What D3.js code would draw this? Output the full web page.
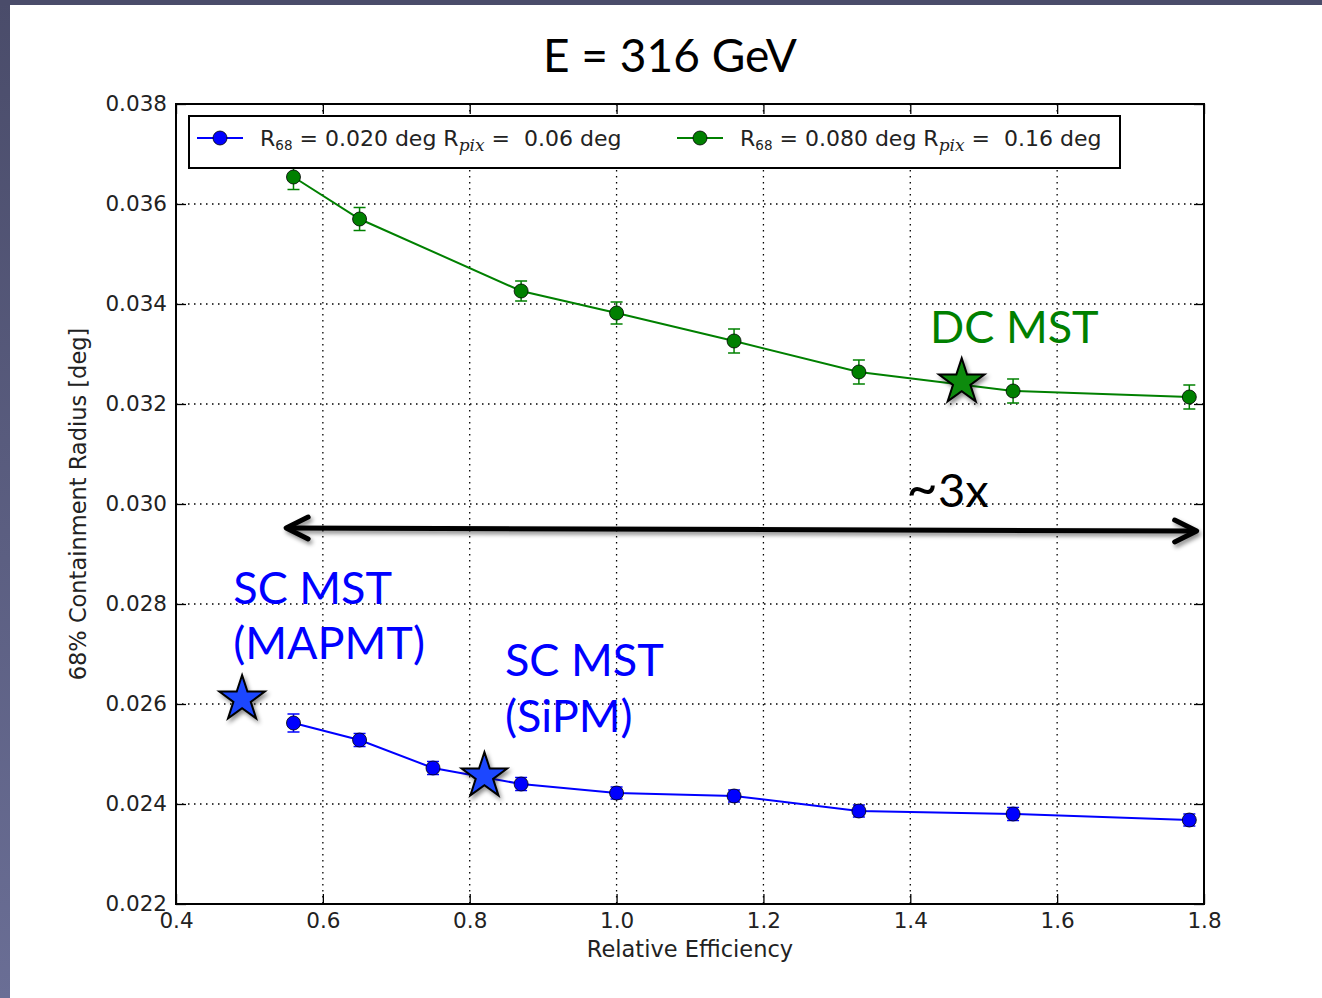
<!DOCTYPE html>
<html>
<head>
<meta charset="utf-8">
<script src="https://cdn.jsdelivr.net/npm/d3@7"></script>
<style>
  html, body { margin: 0; padding: 0; background: #fff; }
  svg { display: block; }
  .tick text { font-family: "DejaVu Sans", sans-serif; font-size: 21.5px; fill: #222; }
</style>
</head>
<body>
<svg id="chart" width="1322" height="998"></svg>
<script>
// Relative efficiency values shared by the simulated configurations
const effBlue  = [0.56, 0.65, 0.75, 0.87, 1.00, 1.16, 1.33, 1.54, 1.78];
const r68Blue  = [0.02562, 0.02528, 0.02472, 0.02440, 0.02422, 0.02416, 0.02386, 0.02380, 0.02368];
const errBlue  = [0.00018, 0.00013, 0.00013, 0.00013, 0.00012, 0.00012, 0.00012, 0.00013, 0.00012];

const effGreen = [0.56, 0.65, 0.87, 1.00, 1.16, 1.33, 1.54, 1.78];
const r68Green = [0.03654, 0.03570, 0.03426, 0.03382, 0.03326, 0.03264, 0.03226, 0.03214];
const errGreen = [0.00025, 0.00023, 0.00020, 0.00022, 0.00024, 0.00024, 0.00024, 0.00024];

// Telescope design points (stars)
const starNames = ["SC MST (MAPMT)", "SC MST (SiPM)", "DC MST"];
const starEff   = [0.49, 0.82, 1.47];
const starR68   = [0.02610, 0.02456, 0.03244];

const xTicks = [0.4, 0.6, 0.8, 1.0, 1.2, 1.4, 1.6, 1.8];
const yTicks = [0.022, 0.024, 0.026, 0.028, 0.030, 0.032, 0.034, 0.036, 0.038];

// ~3x span arrow endpoints (efficiency, radius)
const arrowFrom = [0.55, 0.02952];
const arrowTo   = [1.79, 0.02946];

const svg = d3.select("#chart");
const W = 1322, H = 998;

// slide frame
const defs = svg.append("defs");
const grad = defs.append("linearGradient").attr("id", "frameGrad")
  .attr("x1", 0).attr("y1", 0).attr("x2", 0).attr("y2", 1);
grad.append("stop").attr("offset", "0%").attr("stop-color", "#4a4c6a");
grad.append("stop").attr("offset", "100%").attr("stop-color", "#6a6e95");
const shadow = defs.append("filter").attr("id", "shadow")
  .attr("x", "-50%").attr("y", "-50%").attr("width", "200%").attr("height", "200%");
shadow.append("feDropShadow").attr("dx", 2).attr("dy", 3).attr("stdDeviation", 2)
  .attr("flood-color", "#000").attr("flood-opacity", 0.45);

svg.append("rect").attr("width", W).attr("height", H).attr("fill", "#fff");
svg.append("rect").attr("x", 0).attr("y", 0).attr("width", 10).attr("height", H).attr("fill", "url(#frameGrad)");
svg.append("rect").attr("x", 0).attr("y", 0).attr("width", W).attr("height", 5).attr("fill", "#4a4c6a");

const x = d3.scaleLinear().domain([0.4, 1.8]).range([176, 1204]);
const y = d3.scaleLinear().domain([0.022, 0.038]).range([904, 104]);

// grid
const grid = svg.append("g").attr("stroke", "#000").attr("stroke-width", 1.3)
  .attr("stroke-dasharray", "1.5,4.5");
grid.selectAll("line.gx").data(xTicks.slice(1, -1)).join("line")
  .attr("x1", d => x(d)).attr("x2", d => x(d)).attr("y1", y(0.038)).attr("y2", y(0.022));
grid.selectAll("line.gy").data(yTicks.slice(1, -1)).join("line")
  .attr("y1", d => y(d)).attr("y2", d => y(d)).attr("x1", x(0.4)).attr("x2", x(1.8));

// axes with inward ticks on all four sides
const fmtY = d3.format(".3f");
const fmtX = d3.format(".1f");
function styleAxis(g) {
  g.select(".domain").remove();
  g.selectAll(".tick line").attr("stroke", "#000").attr("stroke-width", 1.3);
}
svg.append("g").attr("transform", `translate(0,${y(0.022)})`)
  .call(d3.axisBottom(x).tickValues(xTicks).tickFormat(fmtX).tickSize(-10).tickPadding(9)).call(styleAxis);
svg.append("g").attr("transform", `translate(0,${y(0.038)})`)
  .call(d3.axisTop(x).tickValues(xTicks).tickFormat("").tickSize(-10)).call(styleAxis);
svg.append("g").attr("transform", `translate(${x(0.4)},0)`)
  .call(d3.axisLeft(y).tickValues(yTicks).tickFormat(fmtY).tickSize(-10).tickPadding(9)).call(styleAxis);
svg.append("g").attr("transform", `translate(${x(1.8)},0)`)
  .call(d3.axisRight(y).tickValues(yTicks).tickFormat("").tickSize(-10)).call(styleAxis);

svg.append("rect").attr("x", x(0.4)).attr("y", y(0.038))
  .attr("width", x(1.8) - x(0.4)).attr("height", y(0.022) - y(0.038))
  .attr("fill", "none").attr("stroke", "#000").attr("stroke-width", 2);

// series
function drawSeries(xs, ys, es, color) {
  const g = svg.append("g");
  const line = d3.line().x((d, i) => x(xs[i])).y(d => y(d));
  g.append("path").datum(ys).attr("d", line).attr("fill", "none")
    .attr("stroke", color).attr("stroke-width", 2);
  const eb = g.append("g").attr("stroke", color).attr("stroke-width", 1.5);
  ys.forEach((v, i) => {
    const cx = x(xs[i]);
    eb.append("line").attr("x1", cx).attr("x2", cx).attr("y1", y(v - es[i])).attr("y2", y(v + es[i]));
    eb.append("line").attr("x1", cx - 6).attr("x2", cx + 6).attr("y1", y(v - es[i])).attr("y2", y(v - es[i]));
    eb.append("line").attr("x1", cx - 6).attr("x2", cx + 6).attr("y1", y(v + es[i])).attr("y2", y(v + es[i]));
  });
  g.selectAll("circle").data(ys).join("circle")
    .attr("cx", (d, i) => x(xs[i])).attr("cy", d => y(d)).attr("r", 7)
    .attr("fill", color).attr("stroke", "#000").attr("stroke-width", 0.8);
}
drawSeries(effGreen, r68Green, errGreen, "#008000");
drawSeries(effBlue, r68Blue, errBlue, "#0000ff");

// legend
const leg = svg.append("g");
leg.append("rect").attr("x", 189).attr("y", 116).attr("width", 931).attr("height", 52)
  .attr("fill", "#fff").attr("stroke", "#000").attr("stroke-width", 2);
const legendItems = [
  { color: "#0000ff", x0: 197, text: ["0.020", "0.06"] },
  { color: "#008000", x0: 677, text: ["0.080", "0.16"] }
];
legendItems.forEach(it => {
  leg.append("line").attr("x1", it.x0).attr("x2", it.x0 + 46).attr("y1", 138).attr("y2", 138)
    .attr("stroke", it.color).attr("stroke-width", 2);
  leg.append("circle").attr("cx", it.x0 + 23).attr("cy", 138).attr("r", 7)
    .attr("fill", it.color).attr("stroke", "#000").attr("stroke-width", 0.8);
  const t = leg.append("text").attr("x", it.x0 + 63).attr("y", 146).attr("xml:space", "preserve")
    .attr("font-family", "DejaVu Sans, sans-serif").attr("font-size", 22).attr("fill", "#222");
  t.append("tspan").text("R");
  t.append("tspan").attr("font-size", 13.5).attr("dy", 4).text("68");
  t.append("tspan").attr("dy", -4).text(` = ${it.text[0]} deg R`);
  t.append("tspan").attr("font-size", 17).attr("dy", 5)
    .attr("font-family", "DejaVu Serif, serif").attr("font-style", "italic").text("pix");
  t.append("tspan").attr("dy", -5).text(" =  " + it.text[1] + " deg");
});

// axis labels
svg.append("text").attr("x", x(1.1)).attr("y", 957).attr("text-anchor", "middle")
  .attr("font-family", "DejaVu Sans, sans-serif").attr("font-size", 22.5).attr("fill", "#222")
  .text("Relative Efficiency");
svg.append("text").attr("transform", `translate(86,${y(0.030)}) rotate(-90)`).attr("text-anchor", "middle")
  .attr("font-family", "DejaVu Sans, sans-serif").attr("font-size", 22.5).attr("fill", "#222")
  .text("68% Containment Radius [deg]");

// title
svg.append("text").attr("x", 670).attr("y", 72).attr("text-anchor", "middle")
  .attr("font-family", "Lato, sans-serif").attr("font-size", 46).attr("fill", "#000")
  .text("E = 316 GeV");

// span arrow
const arr = svg.append("g").attr("filter", "url(#shadow)").attr("stroke", "#000")
  .attr("stroke-width", 5).attr("stroke-linecap", "round").attr("fill", "none");
const ax0 = x(arrowFrom[0]), ay0 = y(arrowFrom[1]), ax1 = x(arrowTo[0]), ay1 = y(arrowTo[1]);
arr.append("line").attr("x1", ax0 + 2).attr("y1", ay0).attr("x2", ax1 - 2).attr("y2", ay1);
arr.append("path").attr("stroke-linejoin", "round")
  .attr("d", `M${ax0 + 22},${ay0 - 11} L${ax0},${ay0} L${ax0 + 22},${ay0 + 11}`);
arr.append("path").attr("stroke-linejoin", "round")
  .attr("d", `M${ax1 - 22},${ay1 - 11} L${ax1},${ay1} L${ax1 - 22},${ay1 + 11}`);

// stars
const starColors = ["#1a47ff", "#1a47ff", "#0a8a0a"];
const star = d3.symbol().type(d3.symbolStar).size(640);
svg.append("g").selectAll("path").data(starEff).join("path")
  .attr("d", star)
  .attr("transform", (d, i) => `translate(${x(d)},${y(starR68[i])})`)
  .attr("fill", (d, i) => starColors[i]).attr("stroke", "#000").attr("stroke-width", 2)
  .attr("filter", "url(#shadow)");

// annotations
const ann = svg.append("g").attr("font-family", "Lato, sans-serif").attr("font-size", 45);
ann.append("text").attr("x", x(1.427)).attr("y", y(0.03322)).attr("fill", "#008000").text("DC MST");
ann.append("text").attr("x", x(0.478)).attr("y", y(0.02800)).attr("fill", "#0000ff").text("SC MST");
ann.append("text").attr("x", x(0.478)).attr("y", y(0.02690)).attr("fill", "#0000ff").text("(MAPMT)");
ann.append("text").attr("x", x(0.848)).attr("y", y(0.02656)).attr("fill", "#0000ff").text("SC MST");
ann.append("text").attr("x", x(0.848)).attr("y", y(0.02544)).attr("fill", "#0000ff").text("(SiPM)");
const tilde = ann.append("text").attr("x", x(1.395)).attr("y", y(0.02994)).attr("fill", "#000");
tilde.append("tspan").attr("font-size", 54).text("~");
tilde.append("tspan").attr("font-size", 47).text("3x");
</script>
</body>
</html>
